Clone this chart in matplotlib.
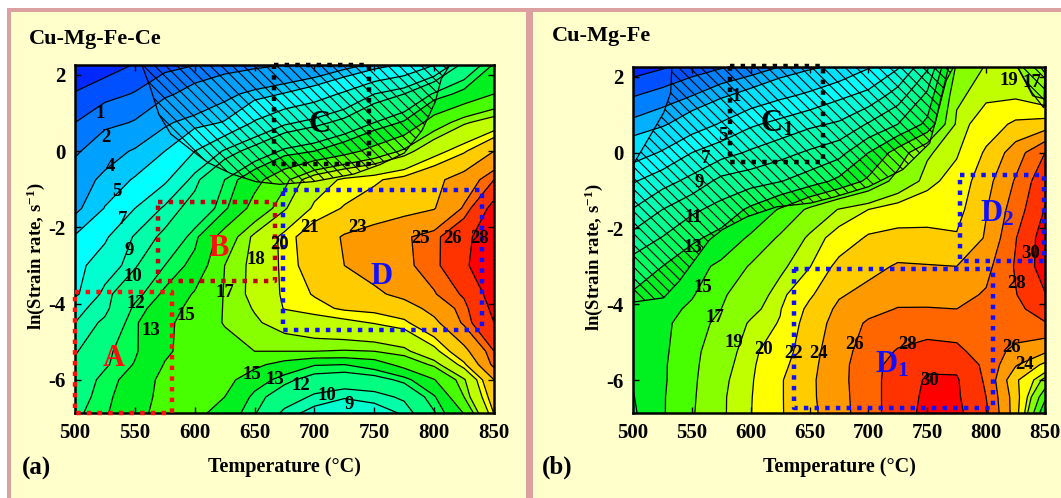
#!/usr/bin/env python3
"""Processing maps of Cu-Mg-Fe-Ce and Cu-Mg-Fe, redrawn from values read off the picture."""

import matplotlib
matplotlib.use("Agg")
import matplotlib.pyplot as plt
import numpy as np
from matplotlib.patches import Rectangle

plt.rcParams.update({
    "font.family": ["Liberation Serif", "DejaVu Serif"],
    "font.weight": "bold",
    "font.size": 14,
    "mathtext.fontset": "custom",
    "mathtext.rm": "Liberation Serif:bold",
    "mathtext.default": "rm",
    "hatch.linewidth": 0.8,
})

W, H = 1061, 498
CREAM = "#ffffcc"
PINK = "#dca0a0"

TEMPS = [500, 525, 550, 575, 600, 625, 650, 675, 700, 725, 750, 775, 800, 825, 850]
RATES = [2.3, 1.5, 0.75, 0, -0.75, -1.5, -2.25, -3, -3.75, -4.125, -4.5, -5.25, -5.6, -6, -6.45, -6.9]

EFF_A = [
    [-0.2, 0.1, 0.4, 0.7, 0.9, 1.15, 1.5, 1.85, 2.3, 3.2, 4.1, 5, 6.7, 10.3, 13],
    [0.45, 0.75, 1.05, 1.7, 2.6, 3.6, 4.4, 5.1, 6, 7.3, 9, 10, 12.2, 13.5, 15],
    [1, 1.6, 2.1, 3.8, 4.5, 5.1, 7.2, 8.7, 9.5, 10.5, 12, 13.2, 16, 17.8, 18.8],
    [1.7, 3.2, 4.2, 5, 7, 9.2, 10.7, 12.3, 13, 14.2, 15.7, 17.3, 19.4, 20.8, 23],
    [3.1, 4.4, 5.1, 6.6, 9.6, 12, 14.3, 16.6, 19, 20.3, 20.8, 21.5, 22.5, 23.9, 26],
    [3.7, 5.05, 7, 9.3, 10.6, 12.7, 15.8, 17.8, 20.3, 21.1, 21.7, 22.3, 22.9, 25.2, 28.8],
    [5.1, 6.7, 9.2, 10.3, 12.6, 16, 18.3, 20.5, 21.8, 23.2, 24, 24.8, 25.6, 27.5, 29.3],
    [6.4, 8, 9.8, 12, 13.5, 17, 18.4, 20.4, 21.7, 23, 23.9, 24.7, 25.6, 27.6, 30],
    [6.6, 9.5, 11.5, 13.3, 15.2, 17.1, 18.4, 20.3, 21.1, 22, 22.6, 23.6, 24.9, 26.2, 29],
    [8.6, 9.6, 12.3, 14, 15.7, 17.1, 18.1, 20.1, 20.6, 21.2, 21.4, 22, 23.7, 25.6, 28.5],
    [9, 10.3, 12.8, 14.5, 16, 17.1, 17.8, 18.6, 19.2, 19.6, 20.1, 20.7, 22.5, 25.3, 28],
    [9.8, 11.7, 12.8, 14.7, 15.8, 16.4, 17, 17, 17, 16.9, 17, 17.6, 19.5, 22.4, 26],
    [10.4, 11.8, 13.1, 15.1, 15.9, 16.1, 15.5, 14.2, 13.1, 13, 13.8, 15.8, 17.3, 20.7, 25.5],
    [11, 12.4, 13.7, 15.6, 16, 15.7, 13.8, 12.4, 11.3, 11, 11.3, 12.4, 14.9, 17.8, 23],
    [11.3, 12.6, 14.1, 15.6, 15.9, 15, 12.6, 11, 9.7, 9.1, 9.4, 10.3, 12.8, 17, 22],
    [11.7, 12.8, 14.5, 15.6, 15.6, 14, 12.1, 9.5, 8.4, 8, 8.3, 9.1, 11.8, 15, 21],
]
EFF_B = [
    [-2.6, -2.2, -1.6, -1.2, -0.8, -0.1, 0.6, 1.2, 2.7, 4.6, 8.5, 17.3, 19.1, 19.1, 16.5],
    [-1.05, -0.55, 0, 0.8, 1.6, 2.6, 3.4, 4.6, 5.6, 8, 11.5, 18.7, 19.7, 19.7, 18.5],
    [0.3, 0.8, 1.9, 3.2, 4.7, 5.6, 6.6, 7.3, 9.2, 11, 13.5, 19.3, 20.9, 22.4, 22.9],
    [2, 3.2, 5, 6.2, 7.3, 8.3, 9.3, 10.3, 13, 15.9, 18.8, 19.8, 22.3, 25, 28],
    [4.8, 6.2, 7.6, 9.6, 10.2, 10.9, 12, 13.5, 15.4, 17.7, 19.5, 20.7, 23.3, 26.2, 29.5],
    [7.1, 9, 10.6, 11.7, 13.4, 15.2, 17.4, 19.1, 20, 20.7, 21, 21.3, 23.9, 27, 30.1],
    [9.7, 11.1, 12.6, 13.7, 15.3, 17.3, 19.3, 20.6, 22.3, 22.7, 22.6, 22.2, 24.2, 27.9, 31],
    [11.9, 13, 14.3, 15.4, 17.2, 18.7, 19.9, 22.7, 23.4, 24.2, 24.1, 24, 25.4, 28.2, 31],
    [13.2, 13.9, 14.8, 16.7, 18.2, 19.5, 21.7, 23.8, 24.6, 25.2, 25.3, 25.4, 26.2, 27.9, 29.9],
    [13.6, 14.2, 15.4, 17, 18.5, 19.9, 22.5, 24.4, 25.3, 26.1, 26.1, 26, 26.6, 27.6, 28.8],
    [13.9, 14.5, 16, 17.6, 19.2, 20.1, 23, 24.7, 26.3, 26.6, 26.8, 26.9, 27, 27.2, 27.9],
    [13.8, 14.6, 16.4, 18.3, 19.6, 21, 23.2, 25.3, 26.8, 28.2, 28.9, 28.5, 27, 25.5, 24.3],
    [13.5, 14.7, 16.5, 18.5, 19.7, 21.4, 23.4, 25.4, 27.1, 28.9, 29.7, 29.6, 27.5, 24.2, 21.5],
    [13.1, 14.7, 16.6, 18.7, 19.8, 21.8, 23.6, 25.4, 27.2, 29, 30.2, 30.2, 27.7, 22.4, 18.5],
    [12.9, 14.8, 16.7, 18.8, 19.9, 21.8, 23.6, 25.3, 27.2, 29, 30.4, 30.3, 28, 23, 15.5],
    [12.7, 14.8, 16.8, 18.8, 19.95, 21.8, 23.5, 25.2, 27.2, 29, 30.6, 30.5, 28.4, 23, 13],
]

LEVELS_A = [0.4, 1, 2, 4, 5, 7, 9, 10, 12, 13, 15, 17, 18, 20, 21, 23, 25, 26, 28]
COLORS_A = ["#0028ff", "#0050ff", "#0078ff", "#00a0ff", "#00c8ff", "#00ffff", "#00ffd0", "#00ffa8",
            "#00ff80", "#00ff50", "#00f020", "#48ff00", "#88ff00", "#c0ff00", "#ffff00", "#ffcc00",
            "#ff9900", "#ff6600", "#ff3300", "#ff0000"]
LEVELS_B = [-2, -1, 0, 1, 3, 5, 7, 9, 11, 13, 15, 17, 19, 20, 22, 24, 26, 28, 30]
COLORS_B = ["#0028ff", "#0050ff", "#0080ff", "#00b0ff", "#00e0ff", "#00ffff", "#00ffd8", "#00ffb0",
            "#00ff90", "#00ff60", "#00f020", "#48ff00", "#88ff00", "#c0ff00", "#ffff00", "#ffcc00",
            "#ff9900", "#ff6600", "#ff3300", "#ff0000"]

UNSTABLE_A_T = [556, 563, 570, 580, 595, 611, 631, 651, 671, 699, 733, 755, 775, 790, 801, 806, 813]
UNSTABLE_A_R = [2.25, 1.66, 0.97, 0.45, 0.08, -0.3, -0.6, -0.8, -0.87, -0.8, -0.6, -0.35, -0.05, 0.55, 1.3, 1.9, 2.25]
UNSTABLE_B_T = [533, 532, 526, 516, 501, 501, 526, 539, 565, 576, 597, 622, 651, 671, 700, 729, 752, 758, 766, 772]
UNSTABLE_B_R = [2.25, 1.58, 1.05, 0.52, -0.27, -3.94, -3.83, -3.4, -2.3, -2.03, -1.69, -1.43, -1.33, -1.17, -0.9, -0.45, 0.25, 0.95, 1.9, 2.25]
UNSTABLE_B2_T = [827, 839, 849, 850]
UNSTABLE_B2_R = [2.25, 1.58, 1.18, 2.25]

BOXES_A = [  # t0, t1, r0, r1, colour
    ("A", 500, 581, -6.87, -3.7, "#ff1010"),
    ("B", 569, 667, -3.4, -1.33, "#c00010"),
    ("C", 666, 746, -0.35, 2.25, "#000000"),
    ("D", 674, 840, -4.68, -1.03, "#1010ff"),
]
BOXES_B = [
    ("C1", 582, 661, -0.25, 2.29, "#000000"),
    ("D2", 778, 849, -2.85, -0.6, "#1010ff"),
    ("D1", 637, 806, -6.75, -3.07, "#1010ff"),
]

LABELS_A = ["1", "2", "4", "5", "7", "9", "10", "12", "13", "15", "17", "18", "20", "21", "23", "25",
            "26", "28", "15", "13", "12", "10", "9"]
LABELS_A_T = [521, 526, 530, 535, 540, 545, 548, 551, 563, 593, 625, 651, 671, 696, 736, 789,
              815, 838, 648, 667, 689, 710, 729]
LABELS_A_R = [1.0, 0.37, -0.4, -1.07, -1.8, -2.6, -3.3, -4.0, -4.7, -4.3, -3.72, -2.83, -2.45, -2, -2, -2.3,
              -2.3, -2.3, -5.85, -6, -6.15, -6.4, -6.65]
LABELS_B = ["1", "5", "7", "9", "11", "13", "15", "17", "19", "20", "22", "24", "26", "28", "30", "26",
            "24", "28", "30", "19", "17"]
LABELS_B_T = [588, 576, 562, 556, 551, 551, 559, 570, 586, 611, 636, 658, 688, 733, 752, 822,
              833, 826, 838, 819, 839]
LABELS_B_R = [1.47, 0.45, -0.16, -0.8, -1.7, -2.5, -3.55, -4.35, -5, -5.2, -5.3, -5.3, -5.05, -5.05, -6, -5.15,
              -5.6, -3.45, -2.65, 1.9, 1.85]

NAMES_A = [("A", 532, -5.45, "#ff1010"), ("B", 620, -2.55, "#ff1010"), ("C", 704, 0.7, "#000000"), ("D", 756, -3.3, "#1010ff")]
NAMES_B = [("C$_1$", 622, 0.75, "#000000"), ("D$_1$", 720, -5.6, "#1010ff"), ("D$_2$", 809, -1.6, "#1010ff")]


def panel(fig, px, z, levels, colors, hatched, boxes, labels, names):
    left, right, top, bottom = px
    ax = fig.add_axes([left / W, 1 - bottom / H, (right - left) / W, (bottom - top) / H])
    z = np.array(z)
    ax.contourf(TEMPS, RATES, z, levels=levels, colors=colors, extend="both")
    ax.contour(TEMPS, RATES, z, levels=levels, colors="black", linewidths=0.9, linestyles="solid")
    for ts, rs in hatched:
        ax.fill(ts, rs, facecolor="none", edgecolor="black", hatch="\\\\\\", lw=0.9, zorder=3)
    for _, t0, t1, r0, r1, c in boxes:
        ax.plot([t0, t1, t1, t0, t0], [r1, r1, r0, r0, r1], color=c, lw=3.2, ls=(0, (1, 1.4)),
                dash_capstyle="butt", clip_on=False, zorder=5)
    for s, t, r in zip(*labels):
        ax.text(t, r, s, fontsize=13.5, ha="center", va="center", color="black", zorder=6)
    for s, t, r, c in names:
        ax.text(t, r, s, fontsize=22, ha="center", va="center", color=c, zorder=6)
    ax.set_xlim(500, 850)
    ax.set_ylim(-6.87, 2.26)
    ax.set_xticks(range(500, 851, 50))
    ax.set_yticks([-6, -4, -2, 0, 2])
    ax.set_yticklabels(["-6", "-4", "-2", "0", "2"])
    ax.tick_params(direction="in", top=True, right=True, width=1.0, length=4, labelsize=15, pad=7)
    ax.set_xlabel("Temperature (\u00b0C)", fontsize=14.5, labelpad=10, fontweight="bold")
    ax.set_ylabel(r"ln(Strain rate, s$^{-1}$)", fontsize=13.5, fontweight="bold")
    ax.yaxis.set_label_coords(-0.068, 0.45)
    for sp in ax.spines.values():
        sp.set_linewidth(1.8)
    return ax


fig = plt.figure(figsize=(W / 100, H / 100), dpi=100, facecolor="white")


def bg(x0, y0, x1, y1, c):
    fig.add_artist(Rectangle((x0 / W, 1 - y1 / H), (x1 - x0) / W, (y1 - y0) / H,
                             transform=fig.transFigure, fc=c, ec="none", zorder=-5))


bg(7, 8, W, H, PINK)
bg(11, 12, 526, H, CREAM)
bg(533, 12, W, H, CREAM)

panel(fig, (75, 494, 65, 413), EFF_A, LEVELS_A, COLORS_A,
      [(UNSTABLE_A_T, UNSTABLE_A_R)], BOXES_A, (LABELS_A, LABELS_A_T, LABELS_A_R), NAMES_A)
panel(fig, (633, 1045, 67, 413), EFF_B, LEVELS_B, COLORS_B,
      [(UNSTABLE_B_T, UNSTABLE_B_R), (UNSTABLE_B2_T, UNSTABLE_B2_R)], BOXES_B,
      (LABELS_B, LABELS_B_T, LABELS_B_R), NAMES_B)

for s, x, y, size in [("Cu-Mg-Fe-Ce", 29, 39, 16), ("Cu-Mg-Fe", 552, 36, 16), ("(a)", 22, 468, 18), ("(b)", 542, 467, 18)]:
    fig.text(x / W, 1 - y / H, s, fontsize=size, ha="left", va="center")

fig.savefig("out.png", dpi=100)
